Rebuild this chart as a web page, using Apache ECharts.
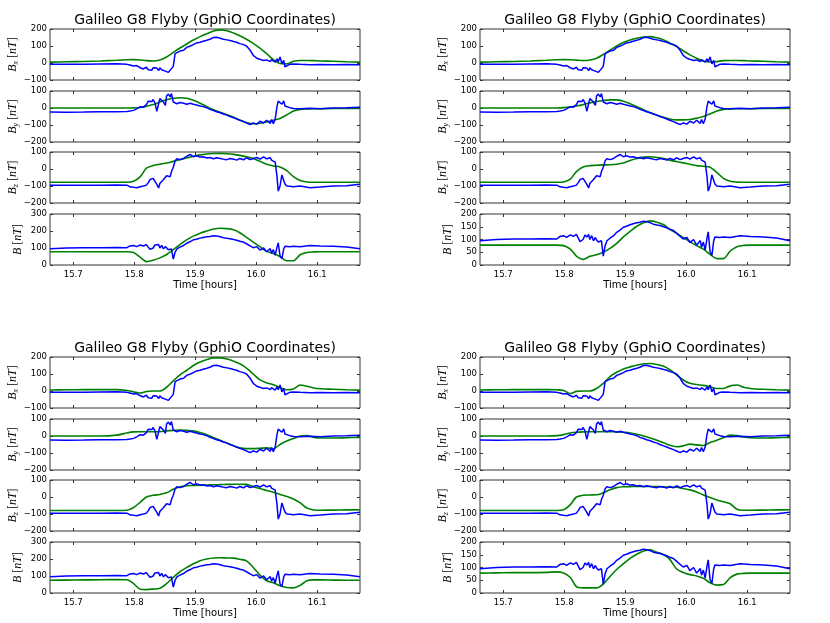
<!DOCTYPE html>
<html lang="en">
<head>
    <meta charset="UTF-8">
    <title>Galileo G8 Flyby | ECharts</title>
    <script src="https://cdn.jsdelivr.net/npm/echarts/dist/echarts.min.js"></script>
    <style>
        body { margin: 0; background: #fff; }
    </style>
</head>
<body>
<div id="chart" style="width: 830px; height: 623px;"></div>

<script type="text/javascript">
    // ---- data ----
    var titleText = 'Galileo G8 Flyby (GphiO Coordinates)';
    var xLabel = 'Time [hours]';
    var components = ['x', 'y', 'z', ''];
    var xTicks = [15.7, 15.8, 15.9, 16.0, 16.1];

    // Galileo magnetometer (same in every panel)
    var obsTime = [15.662, 15.689, 15.717, 15.744, 15.771, 15.788, 15.793, 15.799, 15.804, 15.810,
        15.815, 15.820, 15.823, 15.826, 15.829, 15.831, 15.834, 15.837, 15.840, 15.842,
        15.845, 15.848, 15.851, 15.853, 15.856, 15.859, 15.861, 15.864, 15.867, 15.870,
        15.875, 15.881, 15.886, 15.892, 15.897, 15.902, 15.908, 15.913, 15.919, 15.924,
        15.930, 15.935, 15.941, 15.946, 15.952, 15.957, 15.963, 15.968, 15.973, 15.979,
        15.984, 15.990, 15.995, 16.001, 16.006, 16.012, 16.017, 16.023, 16.025, 16.028,
        16.031, 16.034, 16.036, 16.039, 16.042, 16.045, 16.047, 16.050, 16.055, 16.061,
        16.072, 16.088, 16.105, 16.126, 16.148, 16.170];
    var obsBx = [-8, -7, -8, -6, -5, -8, -12, -18, -15, -28, -35, -25, -40, -30, -42, -28, -38, -30, -45, -28,
        -40, -32, -48, -38, -55, -42, -50, -20, 55, 65, 70, 75, 92, 100, 108, 118, 122, 128, 134, 140,
        150, 152, 146, 140, 136, 132, 126, 122, 114, 108, 100, 75, 45, 28, 22, 15, 18, 8, 20, 12,
        5, 25, 8, 35, -5, 15, -22, -12, -8, -6, -8, -10, -9, -10, -9, -10];
    var obsBy = [-24, -25, -24, -22, -22, -20, -18, -14, -5, 8, 5, 20, 40, 48, 38, 50, 30, -20, 25, 55,
        62, 35, 15, 70, 82, 65, 85, 35, 28, 25, 32, 28, 22, 28, 22, 18, 12, 8, 2, -8,
        -15, -22, -28, -35, -42, -50, -58, -65, -72, -80, -88, -98, -88, -95, -78, -88, -72, -90, -68, -92,
        -65, 10, 40, 48, 22, 42, 12, 15, 2, -3, -4, -2, -4, 0, 2, 5];
    var obsBz = [-95, -96, -95, -96, -94, -95, -105, -108, -110, -104, -100, -95, -80, -62, -58, -55, -65, -90, -112, -85,
        -75, -62, -55, -40, -30, -45, -15, 10, 48, 60, 55, 62, 75, 85, 72, 78, 70, 72, 65, 68,
        60, 66, 62, 58, 55, 62, 58, 52, 62, 54, 66, 55, 62, 68, 58, 72, 60, 66, 52, 60,
        40, -45, -130, -100, -35, -25, -88, -100, -102, -105, -100, -110, -106, -100, -98, -90];
    var obsB = [95, 100, 102, 102, 103, 102, 112, 115, 108, 118, 112, 120, 105, 92, 88, 100, 118, 110, 120, 100,
        115, 95, 108, 98, 90, 85, 95, 35, 75, 95, 105, 115, 128, 138, 148, 152, 158, 162, 166, 168,
        172, 170, 166, 160, 157, 155, 150, 146, 140, 135, 125, 112, 102, 108, 88, 100, 78, 96, 70, 90,
        58, 105, 130, 52, 38, 95, 110, 112, 108, 110, 108, 115, 112, 110, 106, 95];

    // model runs (one per panel)
    var modelTime = [15.662, 15.689, 15.717, 15.744, 15.771, 15.788, 15.799, 15.810, 15.820, 15.831,
        15.842, 15.853, 15.864, 15.875, 15.886, 15.897, 15.908, 15.919, 15.930, 15.941,
        15.952, 15.963, 15.973, 15.984, 15.995, 16.006, 16.017, 16.028, 16.039, 16.050,
        16.061, 16.072, 16.083, 16.094, 16.105, 16.126, 16.148, 16.170];

    var model1Bx = [5, 7, 9, 12, 16, 19, 20, 18, 14, 12, 18, 35, 62, 88, 112, 135, 155, 172, 188, 195,
        190, 176, 160, 140, 115, 88, 55, 20, -3, -5, 10, 15, 15, 14, 12, 10, 7, 5];
    var model1By = [0, 0, 0, 0, 0, 0, 1, 3, 10, 20, 35, 48, 57, 60, 57, 45, 28, 8, -10, -25,
        -40, -55, -70, -85, -93, -90, -82, -72, -62, -40, -18, -8, -5, -4, -4, -3, -3, -3];
    var model1Bz = [-78, -78, -78, -78, -78, -78, -72, -45, 5, 20, 28, 35, 45, 55, 65, 75, 83, 88, 91, 92,
        90, 86, 80, 72, 62, 45, 28, 18, 12, -10, -45, -68, -76, -78, -78, -78, -78, -78];
    var model1B = [78, 78, 78, 78, 78, 78, 74, 45, 20, 28, 42, 62, 90, 120, 148, 170, 187, 200, 212, 216,
        214, 207, 190, 163, 135, 108, 80, 68, 50, 25, 25, 60, 74, 77, 78, 78, 78, 78];

    var model2Bx = [5, 7, 9, 12, 16, 19, 20, 19, 17, 15, 18, 28, 50, 75, 100, 120, 135, 146, 153, 155,
        148, 136, 118, 98, 72, 48, 28, 12, 6, 8, 14, 15, 15, 14, 12, 10, 7, 5];
    var model2By = [0, 0, 0, 0, 0, 0, 2, 6, 12, 20, 30, 38, 44, 48, 48, 40, 25, 8, -10, -28,
        -42, -55, -65, -70, -70, -68, -60, -50, -35, -18, -8, -5, -4, -4, -4, -3, -3, -3];
    var model2Bz = [-78, -78, -78, -78, -78, -78, -76, -60, -15, 12, 20, 22, 24, 25, 28, 35, 50, 62, 70, 72,
        68, 62, 52, 44, 36, 28, 20, 16, 10, -20, -55, -72, -77, -78, -78, -78, -78, -78];
    var model2B = [78, 78, 78, 78, 78, 78, 76, 62, 35, 22, 34, 40, 50, 65, 85, 110, 132, 152, 166, 173,
        168, 158, 140, 125, 108, 92, 76, 62, 42, 25, 25, 55, 72, 77, 78, 78, 78, 78];

    var model3Bx = [6, 7, 8, 8, 8, 3, -5, -12, -3, 0, 0, 22, 60, 95, 122, 150, 170, 185, 195, 195,
        188, 175, 160, 135, 100, 65, 48, 37, 20, 7, 12, 35, 28, 18, 13, 10, 7, 5];
    var model3By = [0, 0, 0, 0, 5, 18, 24, 25, 25, 25, 26, 30, 33, 35, 33, 30, 20, 8, -10, -25,
        -42, -58, -70, -74, -74, -72, -70, -75, -50, -30, -15, 0, 2, -8, -12, -12, -10, -8];
    var model3Bz = [-79, -79, -79, -79, -79, -78, -62, -30, 0, 10, 15, 25, 45, 60, 66, 68, 70, 71, 72, 73,
        74, 75, 75, 74, 60, 50, 38, 28, 15, 3, -12, -35, -65, -76, -78, -77, -76, -75];
    var model3B = [75, 76, 77, 78, 79, 78, 55, 22, 20, 23, 28, 55, 92, 125, 150, 172, 190, 200, 206, 207,
        206, 205, 198, 189, 150, 105, 72, 60, 42, 32, 30, 45, 72, 77, 77, 76, 75, 75];

    var model4Bx = [6, 7, 8, 8, 8, 7, 3, -15, -2, 0, 0, 15, 45, 85, 110, 130, 142, 152, 160, 162,
        156, 145, 125, 95, 65, 45, 38, 33, 25, 15, 15, 30, 35, 22, 15, 10, 7, 5];
    var model4By = [0, 0, 0, 0, 0, 2, 8, 18, 22, 24, 25, 25, 25, 25, 25, 22, 18, 10, 0, -12,
        -25, -40, -55, -63, -58, -48, -52, -56, -38, -25, -10, 5, 2, -6, -10, -12, -10, -8];
    var model4Bz = [-79, -79, -79, -79, -79, -79, -75, -45, 0, 10, 12, 13, 25, 42, 55, 60, 61, 62, 62, 62,
        62, 60, 58, 57, 50, 42, 30, 12, -3, -18, -28, -40, -72, -78, -78, -77, -76, -75];
    var model4B = [78, 79, 80, 80, 81, 83, 78, 61, 25, 20, 20, 20, 35, 65, 92, 115, 136, 152, 165, 169,
        160, 150, 132, 95, 80, 72, 67, 58, 40, 31, 33, 60, 74, 77, 78, 78, 78, 78];

    var observed = [obsBx, obsBy, obsBz, obsB];
    var models = [
        [model1Bx, model1By, model1Bz, model1B],
        [model2Bx, model2By, model2Bz, model2B],
        [model3Bx, model3By, model3Bz, model3B],
        [model4Bx, model4By, model4Bz, model4B]
    ];

    // ---- layout ----
    var xMin = 15.662, xMax = 16.17;
    var panels = [
        {left: 50, top: 29, bMax: 300, bStep: 100},
        {left: 480, top: 29, bMax: 200, bStep: 50},
        {left: 50, top: 357, bMax: 300, bStep: 100},
        {left: 480, top: 357, bMax: 200, bStep: 50}
    ];
    var rowOffset = [0, 62, 123, 185];
    var plotW = 310, plotH = 51;
    var yRanges = [[-100, 200], [-200, 100], [-200, 100]];
    var frameColor = '#333';

    function minus(v) {
        return String(v).replace('-', '\u2212');
    }
    function yName(c) {
        return c ? '{b|B}{s|' + c + '}{t| [}{b|nT}{t|]}' : '{b|B}{t| [}{b|nT}{t|]}';
    }
    var nameRich = {
        b: {fontFamily: 'Liberation Serif', fontStyle: 'italic', fontSize: 12, lineHeight: 14, color: '#000'},
        s: {fontFamily: 'Liberation Serif', fontStyle: 'italic', fontSize: 8, lineHeight: 8, verticalAlign: 'bottom', color: '#000'},
        t: {fontFamily: 'Liberation Serif', fontSize: 12, lineHeight: 14, color: '#000'}
    };

    var grids = [], xBottom = [], xTop = [], yLeft = [], yRight = [], series = [], graphics = [];

    panels.forEach(function (p, pi) {
        for (var r = 0; r < 4; r++) {
            var g = pi * 4 + r;
            var range = r < 3 ? yRanges[r] : [0, p.bMax];
            var step = r < 3 ? 100 : p.bStep;
            grids.push({
                left: p.left, top: p.top + rowOffset[r], width: plotW, height: plotH,
                show: true, borderColor: frameColor, borderWidth: 1
            });
            var tickStyle = {inside: true, length: 3, lineStyle: {color: frameColor}};
            var noLine = {show: false, onZero: false};
            xBottom.push({
                gridIndex: g, type: 'value', min: xMin, max: xMax, position: 'bottom',
                axisLine: noLine, splitLine: {show: false},
                axisTick: Object.assign({customValues: xTicks}, tickStyle),
                axisLabel: {
                    show: r === 3, customValues: xTicks, fontSize: 8.5, color: '#000', margin: 5,
                    fontFamily: 'DejaVu Sans',
                    formatter: function (v) { return v.toFixed(1); }
                }
            });
            xTop.push({
                gridIndex: g, type: 'value', min: xMin, max: xMax, position: 'top',
                axisLine: noLine, splitLine: {show: false},
                axisTick: Object.assign({customValues: xTicks}, tickStyle),
                axisLabel: {show: false}
            });
            yLeft.push({
                gridIndex: g, type: 'value', min: range[0], max: range[1], interval: step,
                position: 'left',
                axisLine: noLine, splitLine: {show: false},
                axisTick: tickStyle,
                axisLabel: {fontSize: 8.5, color: '#000', margin: 3, fontFamily: 'DejaVu Sans', formatter: minus},
                name: yName(components[r]), nameLocation: 'middle', nameRotate: 90, nameGap: 25,
                nameTextStyle: {rich: nameRich}
            });
            yRight.push({
                gridIndex: g, type: 'value', min: range[0], max: range[1], interval: step,
                position: 'right',
                axisLine: noLine, splitLine: {show: false},
                axisTick: tickStyle, axisLabel: {show: false}
            });
            series.push({
                type: 'line', xAxisIndex: g, yAxisIndex: g, showSymbol: false, symbol: 'none',
                smooth: 0.3, lineStyle: {color: '#008000', width: 1.6}, z: 2,
                data: modelTime.map(function (t, i) { return [t, models[pi][r][i]]; })
            });
            series.push({
                type: 'line', xAxisIndex: g, yAxisIndex: g, showSymbol: false, symbol: 'none',
                lineStyle: {color: '#0000ff', width: 1.5}, z: 3,
                data: obsTime.map(function (t, i) { return [t, observed[r][i]]; })
            });
        }
        var cx = p.left + plotW / 2;
        graphics.push({
            type: 'text', x: cx, y: p.top - 9,
            style: {text: titleText, font: '14px "DejaVu Sans"', fill: '#000', textAlign: 'center', textVerticalAlign: 'middle'}
        });
        graphics.push({
            type: 'text', x: cx, y: p.top + rowOffset[3] + plotH + 20,
            style: {text: xLabel, font: '10px "DejaVu Sans"', fill: '#000', textAlign: 'center', textVerticalAlign: 'middle'}
        });
    });

    var myChart = echarts.init(document.getElementById('chart'));
    myChart.setOption({
        animation: false,
        backgroundColor: '#fff',
        grid: grids,
        xAxis: xBottom.concat(xTop),
        yAxis: yLeft.concat(yRight),
        series: series,
        graphic: graphics
    });
</script>
</body>
</html>
